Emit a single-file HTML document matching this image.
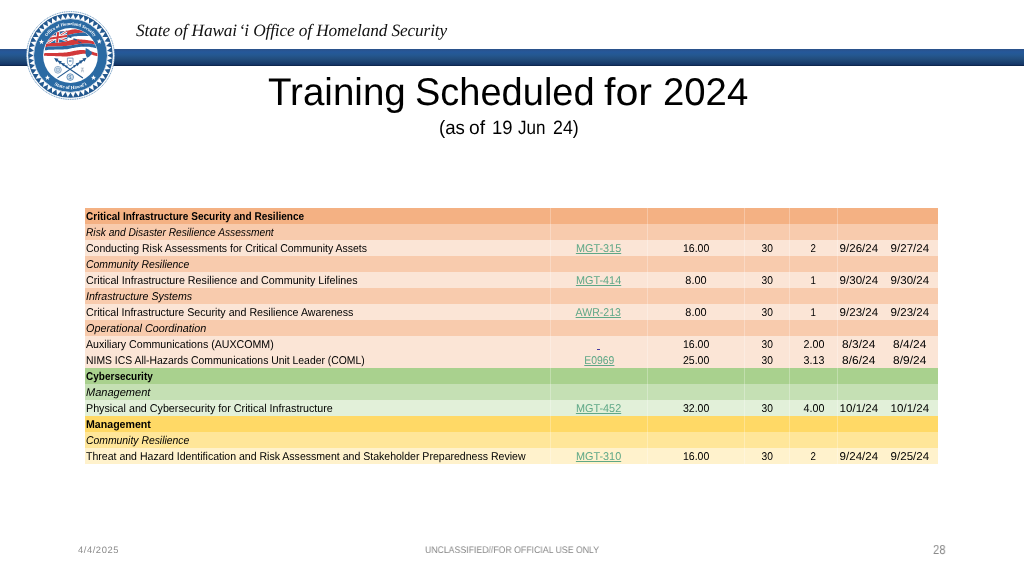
<!DOCTYPE html>
<html lang="en"><head><meta charset="utf-8"><title>Training Scheduled for 2024</title>
<style>
html,body{margin:0;padding:0;}
body{text-rendering:geometricPrecision;width:1024px;height:576px;position:relative;overflow:hidden;background:#fff;font-family:'Liberation Sans',sans-serif;}
.abs{position:absolute;white-space:pre;line-height:1;will-change:transform;}
#bar{position:absolute;left:0;top:49px;width:1024px;height:17px;background:linear-gradient(to bottom,#2b5189 0%,#25589a 18%,#245891 35%,#234f80 55%,#1a416f 78%,#15376a 90%,#0b2142 100%);}
#seal{position:absolute;left:25px;top:10px;width:91px;height:91px;will-change:transform;}
table{will-change:transform;position:absolute;left:85.25px;top:208px;border-collapse:collapse;table-layout:fixed;width:853.15px;}
td{height:16px;padding:0;line-height:16px;font-size:11.3px;color:#000;white-space:nowrap;overflow:visible;text-align:center;border-right:1px solid rgba(255,255,255,.28);box-sizing:border-box;}
td.l{text-align:left;padding-left:1.25px;}
td.nb{border-right:none;}
td span{position:relative;top:0.9px;display:inline-block;transform-origin:50% 50%;}
td.l span{transform-origin:0 50%;}
a{color:#5fa887;text-decoration:underline;}
/*SEALCSS*/
</style></head><body>
<div id="bar"></div>
<svg id="seal" viewBox="-45.5 -45.5 91 91" style="left:24.80px;top:10.00px">
<defs>
<path id="arcT" d="M-30.4,0 A30.4,30.4 0 0 1 30.4,0"/>
<path id="arcB" d="M-33.6,0 A33.6,33.6 0 0 0 33.6,0"/>
<clipPath id="inner"><circle r="27.0"/></clipPath>
<clipPath id="flagclip"><path d="M-21.6,-30 L30,-30 L30,10 L-30,10 L-26.6,0 Z"/></clipPath>
<clipPath id="cantonclip"><path d="M-24.06,-20.38 L-23.02,-20.79 L-21.98,-21.18 L-20.94,-21.48 L-19.90,-21.74 L-18.85,-22.00 L-17.81,-22.26 L-16.77,-22.52 L-15.73,-22.76 L-14.69,-23.00 L-13.65,-23.23 L-12.60,-23.44 L-11.56,-23.62 L-10.52,-23.79 L-9.48,-23.94 L-8.44,-24.09 L-7.40,-24.23 L-6.35,-24.37 L-5.31,-24.50 L-4.27,-24.65 L-3.23,-24.79 L-3.23,-14.38 L-4.27,-14.19 L-5.31,-14.00 L-6.35,-13.81 L-7.40,-13.62 L-8.44,-13.43 L-9.48,-13.25 L-10.52,-13.09 L-11.56,-12.94 L-12.60,-12.81 L-13.65,-12.71 L-14.69,-12.64 L-15.73,-12.60 L-16.77,-12.57 L-17.81,-12.54 L-18.85,-12.50 L-19.90,-12.45 L-20.94,-12.35 L-21.98,-12.19 L-23.02,-11.93 L-24.06,-11.62Z"/></clipPath>
</defs>
<circle r="44.2" fill="#fff"/>
<circle r="43.9" fill="none" stroke="#2a6aa3" stroke-width="0.7" stroke-dasharray="1.1 0.7"/>
<circle r="42.35" fill="#24598f"/>
<path d="M36.90,0.00 L41.81,2.74 L36.58,4.82Z M36.58,4.82 L41.09,8.17 L35.64,9.55Z M35.64,9.55 L39.68,13.47 L34.09,14.12Z M34.09,14.12 L37.58,18.53 L31.96,18.45Z M31.96,18.45 L34.84,23.28 L29.27,22.46Z M29.27,22.46 L31.50,27.63 L26.09,26.09Z M26.09,26.09 L27.63,31.50 L22.46,29.27Z M22.46,29.27 L23.28,34.84 L18.45,31.96Z M18.45,31.96 L18.53,37.58 L14.12,34.09Z M14.12,34.09 L13.47,39.68 L9.55,35.64Z M9.55,35.64 L8.17,41.09 L4.82,36.58Z M4.82,36.58 L2.74,41.81 L0.00,36.90Z M0.00,36.90 L-2.74,41.81 L-4.82,36.58Z M-4.82,36.58 L-8.17,41.09 L-9.55,35.64Z M-9.55,35.64 L-13.47,39.68 L-14.12,34.09Z M-14.12,34.09 L-18.53,37.58 L-18.45,31.96Z M-18.45,31.96 L-23.28,34.84 L-22.46,29.27Z M-22.46,29.27 L-27.63,31.50 L-26.09,26.09Z M-26.09,26.09 L-31.50,27.63 L-29.27,22.46Z M-29.27,22.46 L-34.84,23.28 L-31.96,18.45Z M-31.96,18.45 L-37.58,18.53 L-34.09,14.12Z M-34.09,14.12 L-39.68,13.47 L-35.64,9.55Z M-35.64,9.55 L-41.09,8.17 L-36.58,4.82Z M-36.58,4.82 L-41.81,2.74 L-36.90,0.00Z M-36.90,0.00 L-41.81,-2.74 L-36.58,-4.82Z M-36.58,-4.82 L-41.09,-8.17 L-35.64,-9.55Z M-35.64,-9.55 L-39.68,-13.47 L-34.09,-14.12Z M-34.09,-14.12 L-37.58,-18.53 L-31.96,-18.45Z M-31.96,-18.45 L-34.84,-23.28 L-29.27,-22.46Z M-29.27,-22.46 L-31.50,-27.63 L-26.09,-26.09Z M-26.09,-26.09 L-27.63,-31.50 L-22.46,-29.27Z M-22.46,-29.27 L-23.28,-34.84 L-18.45,-31.96Z M-18.45,-31.96 L-18.53,-37.58 L-14.12,-34.09Z M-14.12,-34.09 L-13.47,-39.68 L-9.55,-35.64Z M-9.55,-35.64 L-8.17,-41.09 L-4.82,-36.58Z M-4.82,-36.58 L-2.74,-41.81 L-0.00,-36.90Z M-0.00,-36.90 L2.74,-41.81 L4.82,-36.58Z M4.82,-36.58 L8.17,-41.09 L9.55,-35.64Z M9.55,-35.64 L13.47,-39.68 L14.12,-34.09Z M14.12,-34.09 L18.53,-37.58 L18.45,-31.96Z M18.45,-31.96 L23.28,-34.84 L22.46,-29.27Z M22.46,-29.27 L27.63,-31.50 L26.09,-26.09Z M26.09,-26.09 L31.50,-27.63 L29.27,-22.46Z M29.27,-22.46 L34.84,-23.28 L31.96,-18.45Z M31.96,-18.45 L37.58,-18.53 L34.09,-14.12Z M34.09,-14.12 L39.68,-13.47 L35.64,-9.55Z M35.64,-9.55 L41.09,-8.17 L36.58,-4.82Z M36.58,-4.82 L41.81,-2.74 L36.90,-0.00Z" fill="#fff"/>
<circle r="37.0" fill="#fff"/>
<circle r="36.5" fill="#2a6aa3"/>
<circle r="27.4" fill="#fff"/>
<g clip-path="url(#inner)">
 <g clip-path="url(#flagclip)">
 <path d="M-28.23,-19.06 L-27.19,-19.29 L-26.15,-19.61 L-25.10,-19.98 L-24.06,-20.38 L-23.02,-20.79 L-21.98,-21.18 L-20.94,-21.48 L-19.90,-21.74 L-18.85,-22.00 L-17.81,-22.26 L-16.77,-22.52 L-15.73,-22.76 L-14.69,-23.00 L-13.65,-23.23 L-12.60,-23.44 L-11.56,-23.62 L-10.52,-23.79 L-9.48,-23.94 L-8.44,-24.09 L-7.40,-24.23 L-6.35,-24.37 L-5.31,-24.50 L-4.27,-24.65 L-3.23,-24.79 L-2.19,-25.00 L-1.15,-25.24 L-0.10,-25.48 L0.94,-25.70 L1.98,-25.90 L3.02,-26.06 L4.06,-26.15 L5.10,-26.17 L6.15,-26.13 L7.19,-26.05 L8.23,-25.94 L9.27,-25.80 L10.31,-25.66 L11.35,-25.52 L12.40,-25.38 L13.44,-25.23 L14.48,-25.07 L15.52,-24.90 L16.56,-24.71 L17.60,-24.50 L18.65,-24.27 L19.69,-24.06 L20.73,-23.82 L21.77,-23.56 L22.81,-23.29 L23.85,-23.02 L24.90,-22.76 L25.94,-22.53 L26.98,-22.33 L28.02,-22.19 L28.02,-22.19 L26.98,-22.25 L25.94,-22.34 L24.90,-22.44 L23.85,-22.56 L22.81,-22.68 L21.77,-22.79 L20.73,-22.89 L19.69,-22.97 L18.65,-23.02 L17.60,-23.05 L16.56,-23.06 L15.52,-23.04 L14.48,-23.00 L13.44,-22.95 L12.40,-22.88 L11.35,-22.81 L10.31,-22.73 L9.27,-22.64 L8.23,-22.54 L7.19,-22.43 L6.15,-22.30 L5.10,-22.15 L4.06,-21.98 L3.02,-21.78 L1.98,-21.55 L0.94,-21.30 L-0.10,-21.04 L-1.15,-20.78 L-2.19,-20.54 L-3.23,-20.31 L-4.27,-20.16 L-5.31,-20.01 L-6.35,-19.86 L-7.40,-19.73 L-8.44,-19.60 L-9.48,-19.46 L-10.52,-19.33 L-11.56,-19.20 L-12.60,-19.06 L-13.65,-18.92 L-14.69,-18.79 L-15.73,-18.65 L-16.77,-18.52 L-17.81,-18.39 L-18.85,-18.24 L-19.90,-18.08 L-20.94,-17.91 L-21.98,-17.67 L-23.02,-17.35 L-24.06,-16.98 L-25.10,-16.60 L-26.15,-16.24 L-27.19,-15.94 L-28.23,-15.73Z" fill="#d2393b"/><path d="M-28.23,-15.73 L-27.19,-15.94 L-26.15,-16.24 L-25.10,-16.60 L-24.06,-16.98 L-23.02,-17.35 L-21.98,-17.67 L-20.94,-17.91 L-19.90,-18.08 L-18.85,-18.24 L-17.81,-18.39 L-16.77,-18.52 L-15.73,-18.65 L-14.69,-18.79 L-13.65,-18.92 L-12.60,-19.06 L-11.56,-19.20 L-10.52,-19.33 L-9.48,-19.46 L-8.44,-19.60 L-7.40,-19.73 L-6.35,-19.86 L-5.31,-20.01 L-4.27,-20.16 L-3.23,-20.31 L-2.19,-20.54 L-1.15,-20.78 L-0.10,-21.04 L0.94,-21.30 L1.98,-21.55 L3.02,-21.78 L4.06,-21.98 L5.10,-22.15 L6.15,-22.30 L7.19,-22.43 L8.23,-22.54 L9.27,-22.64 L10.31,-22.73 L11.35,-22.81 L12.40,-22.88 L13.44,-22.95 L14.48,-23.00 L15.52,-23.04 L16.56,-23.06 L17.60,-23.05 L18.65,-23.02 L19.69,-22.97 L20.73,-22.89 L21.77,-22.79 L22.81,-22.68 L23.85,-22.56 L24.90,-22.44 L25.94,-22.34 L26.98,-22.25 L28.02,-22.19 L28.02,-19.06 L26.98,-19.10 L25.94,-19.16 L24.90,-19.22 L23.85,-19.29 L22.81,-19.37 L21.77,-19.44 L20.73,-19.50 L19.69,-19.55 L18.65,-19.58 L17.60,-19.60 L16.56,-19.61 L15.52,-19.59 L14.48,-19.57 L13.44,-19.54 L12.40,-19.51 L11.35,-19.48 L10.31,-19.45 L9.27,-19.44 L8.23,-19.41 L7.19,-19.38 L6.15,-19.34 L5.10,-19.27 L4.06,-19.17 L3.02,-19.03 L1.98,-18.86 L0.94,-18.66 L-0.10,-18.45 L-1.15,-18.24 L-2.19,-18.02 L-3.23,-17.81 L-4.27,-17.66 L-5.31,-17.50 L-6.35,-17.33 L-7.40,-17.17 L-8.44,-17.01 L-9.48,-16.84 L-10.52,-16.68 L-11.56,-16.52 L-12.60,-16.35 L-13.65,-16.19 L-14.69,-16.02 L-15.73,-15.86 L-16.77,-15.70 L-17.81,-15.54 L-18.85,-15.37 L-19.90,-15.19 L-20.94,-15.00 L-21.98,-14.75 L-23.02,-14.42 L-24.06,-14.05 L-25.10,-13.67 L-26.15,-13.32 L-27.19,-13.02 L-28.23,-12.81Z" fill="#2a6aa3"/><path d="M-28.23,-10.52 L-27.19,-10.71 L-26.15,-10.98 L-25.10,-11.29 L-24.06,-11.62 L-23.02,-11.93 L-21.98,-12.19 L-20.94,-12.35 L-19.90,-12.45 L-18.85,-12.50 L-17.81,-12.54 L-16.77,-12.57 L-15.73,-12.60 L-14.69,-12.64 L-13.65,-12.71 L-12.60,-12.81 L-11.56,-12.94 L-10.52,-13.09 L-9.48,-13.25 L-8.44,-13.43 L-7.40,-13.62 L-6.35,-13.81 L-5.31,-14.00 L-4.27,-14.19 L-3.23,-14.38 L-2.19,-14.62 L-1.15,-14.90 L-0.10,-15.17 L0.94,-15.45 L1.98,-15.69 L3.02,-15.90 L4.06,-16.04 L5.10,-16.13 L6.15,-16.16 L7.19,-16.16 L8.23,-16.13 L9.27,-16.07 L10.31,-16.01 L11.35,-15.94 L12.40,-15.86 L13.44,-15.78 L14.48,-15.68 L15.52,-15.57 L16.56,-15.43 L17.60,-15.28 L18.65,-15.10 L19.69,-14.94 L20.73,-14.74 L21.77,-14.52 L22.81,-14.28 L23.85,-14.05 L24.90,-13.83 L25.94,-13.63 L26.98,-13.46 L28.02,-13.33 L28.02,-10.21 L26.98,-10.34 L25.94,-10.52 L24.90,-10.74 L23.85,-10.98 L22.81,-11.23 L21.77,-11.47 L20.73,-11.68 L19.69,-11.86 L18.65,-11.98 L17.60,-12.06 L16.56,-12.09 L15.52,-12.07 L14.48,-12.02 L13.44,-11.95 L12.40,-11.86 L11.35,-11.77 L10.31,-11.67 L9.27,-11.53 L8.23,-11.38 L7.19,-11.22 L6.15,-11.05 L5.10,-10.89 L4.06,-10.73 L3.02,-10.58 L1.98,-10.42 L0.94,-10.26 L-0.10,-10.10 L-1.15,-9.95 L-2.19,-9.81 L-3.23,-9.69 L-4.27,-9.61 L-5.31,-9.53 L-6.35,-9.46 L-7.40,-9.40 L-8.44,-9.35 L-9.48,-9.30 L-10.52,-9.25 L-11.56,-9.21 L-12.60,-9.17 L-13.65,-9.13 L-14.69,-9.12 L-15.73,-9.11 L-16.77,-9.10 L-17.81,-9.10 L-18.85,-9.08 L-19.90,-9.05 L-20.94,-8.99 L-21.98,-8.90 L-23.02,-8.73 L-24.06,-8.53 L-25.10,-8.32 L-26.15,-8.11 L-27.19,-7.94 L-28.23,-7.81Z" fill="#d2393b"/><path d="M-28.23,-7.81 L-27.19,-7.94 L-26.15,-8.11 L-25.10,-8.32 L-24.06,-8.53 L-23.02,-8.73 L-21.98,-8.90 L-20.94,-8.99 L-19.90,-9.05 L-18.85,-9.08 L-17.81,-9.10 L-16.77,-9.10 L-15.73,-9.11 L-14.69,-9.12 L-13.65,-9.13 L-12.60,-9.17 L-11.56,-9.21 L-10.52,-9.25 L-9.48,-9.30 L-8.44,-9.35 L-7.40,-9.40 L-6.35,-9.46 L-5.31,-9.53 L-4.27,-9.61 L-3.23,-9.69 L-2.19,-9.81 L-1.15,-9.95 L-0.10,-10.10 L0.94,-10.26 L1.98,-10.42 L3.02,-10.58 L4.06,-10.73 L5.10,-10.89 L6.15,-11.05 L7.19,-11.22 L8.23,-11.38 L9.27,-11.53 L10.31,-11.67 L11.35,-11.77 L12.40,-11.86 L13.44,-11.95 L14.48,-12.02 L15.52,-12.07 L16.56,-12.09 L17.60,-12.06 L18.65,-11.98 L19.69,-11.86 L20.73,-11.68 L21.77,-11.47 L22.81,-11.23 L23.85,-10.98 L24.90,-10.74 L25.94,-10.52 L26.98,-10.34 L28.02,-10.21 L28.02,-7.08 L26.98,-7.20 L25.94,-7.35 L24.90,-7.54 L23.85,-7.75 L22.81,-7.97 L21.77,-8.18 L20.73,-8.37 L19.69,-8.53 L18.65,-8.65 L17.60,-8.75 L16.56,-8.81 L15.52,-8.85 L14.48,-8.85 L13.44,-8.84 L12.40,-8.80 L11.35,-8.75 L10.31,-8.68 L9.27,-8.57 L8.23,-8.45 L7.19,-8.31 L6.15,-8.15 L5.10,-7.98 L4.06,-7.81 L3.02,-7.62 L1.98,-7.40 L0.94,-7.17 L-0.10,-6.93 L-1.15,-6.71 L-2.19,-6.51 L-3.23,-6.35 L-4.27,-6.26 L-5.31,-6.19 L-6.35,-6.13 L-7.40,-6.09 L-8.44,-6.05 L-9.48,-6.02 L-10.52,-6.00 L-11.56,-5.97 L-12.60,-5.94 L-13.65,-5.91 L-14.69,-5.89 L-15.73,-5.88 L-16.77,-5.87 L-17.81,-5.86 L-18.85,-5.85 L-19.90,-5.81 L-20.94,-5.76 L-21.98,-5.67 L-23.02,-5.52 L-24.06,-5.34 L-25.10,-5.15 L-26.15,-4.96 L-27.19,-4.80 L-28.23,-4.69Z" fill="#2a6aa3"/><path d="M-28.23,-2.19 L-27.19,-2.23 L-26.15,-2.30 L-25.10,-2.38 L-24.06,-2.46 L-23.02,-2.53 L-21.98,-2.58 L-20.94,-2.61 L-19.90,-2.62 L-18.85,-2.62 L-17.81,-2.60 L-16.77,-2.59 L-15.73,-2.57 L-14.69,-2.57 L-13.65,-2.58 L-12.60,-2.60 L-11.56,-2.64 L-10.52,-2.69 L-9.48,-2.74 L-8.44,-2.79 L-7.40,-2.86 L-6.35,-2.94 L-5.31,-3.02 L-4.27,-3.12 L-3.23,-3.23 L-2.19,-3.40 L-1.15,-3.60 L-0.10,-3.83 L0.94,-4.06 L1.98,-4.29 L3.02,-4.50 L4.06,-4.69 L5.10,-4.86 L6.15,-5.03 L7.19,-5.19 L8.23,-5.33 L9.27,-5.44 L10.31,-5.51 L11.35,-5.52 L12.40,-5.48 L13.44,-5.40 L14.48,-5.27 L15.52,-5.11 L16.56,-4.92 L17.60,-4.71 L18.65,-4.48 L19.69,-4.27 L20.73,-4.01 L21.77,-3.72 L22.81,-3.42 L23.85,-3.12 L24.90,-2.83 L25.94,-2.57 L26.98,-2.35 L28.02,-2.19 L28.02,0.94 L26.98,0.77 L25.94,0.54 L24.90,0.27 L23.85,-0.04 L22.81,-0.35 L21.77,-0.66 L20.73,-0.94 L19.69,-1.18 L18.65,-1.35 L17.60,-1.51 L16.56,-1.61 L15.52,-1.67 L14.48,-1.69 L13.44,-1.68 L12.40,-1.63 L11.35,-1.56 L10.31,-1.45 L9.27,-1.28 L8.23,-1.08 L7.19,-0.86 L6.15,-0.63 L5.10,-0.40 L4.06,-0.21 L3.02,-0.02 L1.98,0.17 L0.94,0.37 L-0.10,0.55 L-1.15,0.71 L-2.19,0.85 L-3.23,0.94 L-4.27,0.97 L-5.31,0.98 L-6.35,0.97 L-7.40,0.94 L-8.44,0.90 L-9.48,0.86 L-10.52,0.81 L-11.56,0.76 L-12.60,0.73 L-13.65,0.70 L-14.69,0.66 L-15.73,0.62 L-16.77,0.58 L-17.81,0.54 L-18.85,0.50 L-19.90,0.46 L-20.94,0.43 L-21.98,0.40 L-23.02,0.38 L-24.06,0.36 L-25.10,0.34 L-26.15,0.33 L-27.19,0.32 L-28.23,0.31Z" fill="#d2393b"/>
 <path d="M-24.06,-20.38 L-23.02,-20.79 L-21.98,-21.18 L-20.94,-21.48 L-19.90,-21.74 L-18.85,-22.00 L-17.81,-22.26 L-16.77,-22.52 L-15.73,-22.76 L-14.69,-23.00 L-13.65,-23.23 L-12.60,-23.44 L-11.56,-23.62 L-10.52,-23.79 L-9.48,-23.94 L-8.44,-24.09 L-7.40,-24.23 L-6.35,-24.37 L-5.31,-24.50 L-4.27,-24.65 L-3.23,-24.79 L-3.23,-14.38 L-4.27,-14.19 L-5.31,-14.00 L-6.35,-13.81 L-7.40,-13.62 L-8.44,-13.43 L-9.48,-13.25 L-10.52,-13.09 L-11.56,-12.94 L-12.60,-12.81 L-13.65,-12.71 L-14.69,-12.64 L-15.73,-12.60 L-16.77,-12.57 L-17.81,-12.54 L-18.85,-12.50 L-19.90,-12.45 L-20.94,-12.35 L-21.98,-12.19 L-23.02,-11.93 L-24.06,-11.62Z" fill="#2a6aa3"/>
 <g clip-path="url(#cantonclip)">
  <path d="M-21.77,-21.24 L-2.60,-14.52 M-23.85,-11.68 L-2.60,-24.92" stroke="#fff" stroke-width="2.4" fill="none"/>
  <path d="M-21.77,-21.24 L-2.60,-14.52 M-23.85,-11.68 L-2.60,-24.92" stroke="#d2393b" stroke-width="0.9" fill="none"/>
  <path d="M-12.40,-23.47 L-13.44,-12.73 M-22.81,-16.46 L-2.60,-19.72" stroke="#fff" stroke-width="3.6" fill="none"/>
  <path d="M-12.40,-23.47 L-13.44,-12.73 M-22.81,-16.46 L-2.60,-19.72" stroke="#d2393b" stroke-width="2" fill="none"/>
 </g>
 </g>
 <!-- island chain -->
 <path d="M-1.4,-19.6 l2.6,0.7 l-0.5,1.6 l-2.3,-0.9z M3,-17.2 l3.4,1 l-0.4,1.5 l-3.2,-1z M7.6,-14.6 l3,1.3 l0.8,1.4 l-3.4,-1z M11.6,-11.6 l2.4,1.2 l-0.5,1.2 l-2.3,-1z" fill="#24598f"/>
 <path d="M15.2,-7.4 L18,-6 L20.3,-4.3 L21.7,-2.6 L20.4,-0.6 L18.6,1.2 L16.6,2.2 L15.6,0.2 L15,-2.2 Z" fill="#2a6aa3"/>
 <!-- crossed spears -->
 <path d="M-14.4,4.2 L12.4,22.4 M14.2,3.8 L-13,22.4" stroke="#24598f" stroke-width="1.15" fill="none"/>
 <path d="M-16.4,2.6 l4.4,0.7 l-2.1,3.4z M-12.8,5 l4.2,0.7 l-2,3.2z M-9.3,7.4 l3.9,0.7 l-1.9,3z M-5.9,9.7 l3.2,0.6 l-1.5,2.4z M16.2,2.2 l-4.4,0.7 l2.1,3.4z M12.6,4.6 l-4.2,0.7 l2,3.2z M9.1,7 l-3.9,0.7 l1.9,3z M5.7,9.3 l-3.2,0.6 l1.5,2.4z" fill="#24598f"/>
 <!-- shield -->
 <path d="M-3.1,2.6 h5.6 v4 c0,2 -1.5,3.1 -2.8,3.6 c-1.3,-0.5 -2.8,-1.6 -2.8,-3.6z" fill="#fff" stroke="#5b86b0" stroke-width="0.8"/>
 <path d="M-1.6,4.4 h2.6 v2.2 h-2.6z" fill="#8fb0cf"/>
 <!-- left globe -->
 <circle cx="-12.6" cy="14.3" r="3.4" fill="#fff" stroke="#5b86b0" stroke-width="0.7"/>
 <circle cx="-12.6" cy="14.3" r="2" fill="#c3d5e6" stroke="#5b86b0" stroke-width="0.5"/>
 <!-- bottom $ -->
 <circle cx="-0.3" cy="21.6" r="3.3" fill="#fff" stroke="#2a6aa3" stroke-width="0.7"/>
 <circle cx="-0.3" cy="21.6" r="2.1" fill="none" stroke="#5b86b0" stroke-width="0.4"/>
 <path d="M0.6,20.5 c-0.5,-0.5 -1.9,-0.4 -1.9,0.4 c0,0.9 2,0.5 2,1.5 c0,0.8 -1.5,0.9 -2.1,0.3 M-0.3,19.6 v4" stroke="#2a6aa3" stroke-width="0.5" fill="none"/>
 <!-- right satellite -->
 <path d="M10.3,12.6 l3.2,0 M11.9,12.6 l-1.1,4.2 M11.9,12.6 l1.1,4.2 M10.6,15.2 l2.6,0" stroke="#9aa9b8" stroke-width="0.55" fill="none"/>
</g>
<polygon points="-29.00,-16.22 -28.34,-14.44 -26.43,-14.36 -27.92,-13.17 -27.41,-11.34 -29.00,-12.39 -30.59,-11.34 -30.08,-13.17 -31.57,-14.36 -29.67,-14.44" fill="#fff"/><polygon points="28.76,-16.73 29.43,-14.95 31.33,-14.86 29.84,-13.68 30.35,-11.84 28.76,-12.89 27.17,-11.84 27.68,-13.68 26.19,-14.86 28.09,-14.95" fill="#fff"/><polygon points="23.02,19.53 23.69,21.31 25.59,21.39 24.10,22.58 24.61,24.41 23.02,23.36 21.43,24.41 21.94,22.58 20.45,21.39 22.35,21.31" fill="#fff"/><polygon points="-23.02,19.53 -22.35,21.31 -20.45,21.39 -21.94,22.58 -21.43,24.41 -23.02,23.36 -24.61,24.41 -24.10,22.58 -25.59,21.39 -23.69,21.31" fill="#fff"/>
<text font-family="Liberation Serif, serif" font-size="4.5" font-weight="bold" fill="#fff" text-anchor="middle"><textPath href="#arcT" startOffset="50%">Office of Homeland Security</textPath></text>
<text font-family="Liberation Serif, serif" font-size="4.9" font-weight="bold" fill="#fff" text-anchor="middle"><textPath href="#arcB" startOffset="50%">State of Hawai‘i</textPath></text>
</svg>
<div class="abs" id="hdr" style="left:135.6px;top:22.11px;font-family:'Liberation Serif', serif;font-size:17.3px;font-weight:normal;font-style:italic;color:#111;letter-spacing:-0.122px">State of Hawai<span style="margin-left:1.6px">‘</span>i Office of Homeland Security</div>
<div class="abs" id="title" style="left:0;top:74.13px;width:1024px;height:38.6px;font-family:'Liberation Sans', sans-serif;font-size:38.6px;font-weight:normal;font-style:normal;color:#000"><span style="position:absolute;left:268.00px;top:0;transform:scaleX(0.9986);transform-origin:0 50%">Training</span> <span style="position:absolute;left:414.81px;top:0;transform:scaleX(0.9851);transform-origin:0 50%">Scheduled</span> <span style="position:absolute;left:604.40px;top:0;transform:scaleX(1.0670);transform-origin:0 50%">for</span> <span style="position:absolute;left:663.41px;top:0;transform:scaleX(0.9933);transform-origin:0 50%">2024</span></div>
<div class="abs" id="sub" style="left:0;top:118.86px;width:1024px;height:19.3px;font-family:'Liberation Sans', sans-serif;font-size:19.3px;font-weight:normal;font-style:normal;color:#000"><span style="position:absolute;left:438.79px;top:0;transform:scaleX(0.9644);transform-origin:0 50%">(as</span> <span style="position:absolute;left:469.20px;top:0;transform:scaleX(0.9986);transform-origin:0 50%">of</span> <span style="position:absolute;left:491.84px;top:0;transform:scaleX(0.9583);transform-origin:0 50%">19</span> <span style="position:absolute;left:518.20px;top:0;transform:scaleX(0.8826);transform-origin:0 50%">Jun</span> <span style="position:absolute;left:553.00px;top:0;transform:scaleX(0.9218);transform-origin:0 50%">24)</span></div>
<div class="abs" id="fdate" style="left:77.8px;top:544.84px;font-family:'Liberation Sans', sans-serif;font-size:9.4px;font-weight:normal;font-style:normal;color:#8a8a8a;letter-spacing:0.557px">4/4/2025</div>
<div class="abs" id="fmid" style="left:424.8px;top:546.07px;font-family:'Liberation Sans', sans-serif;font-size:9.6px;font-weight:normal;font-style:normal;color:#878787;transform:scaleX(0.9092);transform-origin:0 50%">UNCLASSIFIED//FOR OFFICIAL USE ONLY</div>
<div class="abs" id="fnum" style="left:932.8px;top:543.00px;font-family:'Liberation Sans', sans-serif;font-size:13px;font-weight:normal;font-style:normal;color:#8a8a8a;transform:scaleX(0.8708);transform-origin:0 50%">28</div>
<table><colgroup><col style="width:465.05px"><col style="width:97.90px"><col style="width:96.40px"><col style="width:45.10px"><col style="width:47.70px"><col style="width:43.40px"><col style="width:57.60px"></colgroup>
<tr style="background:#F4B183"><td class="l"><span style="transform:scaleX(0.8911);font-weight:bold;">Critical Infrastructure Security and Resilience</span></td><td></td><td></td><td></td><td></td><td class="nb"></td><td class="nb"></td></tr>
<tr style="background:#F8CBAD"><td class="l"><span style="transform:scaleX(0.9023);font-style:italic;">Risk and Disaster Resilience Assessment</span></td><td></td><td></td><td></td><td></td><td class="nb"></td><td class="nb"></td></tr>
<tr style="background:#FBE5D6"><td class="l"><span style="transform:scaleX(0.9286);">Conducting Risk Assessments for Critical Community Assets</span></td><td><span style="transform:scaleX(0.9619);left:-0.55px;"><a>MGT-315</a></span></td><td><span style="transform:scaleX(0.937);left:0.10px;">16.00</span></td><td><span style="transform:scaleX(0.9063);left:0.65px;">30</span></td><td><span style="transform:scaleX(0.8576);left:0.35px;">2</span></td><td class="nb"><span style="transform:scaleX(1.0211);left:0.00px;">9/26/24</span></td><td class="nb"><span style="transform:scaleX(1.0211);left:0.10px;">9/27/24</span></td></tr>
<tr style="background:#F8CBAD"><td class="l"><span style="transform:scaleX(0.9191);font-style:italic;">Community Resilience</span></td><td></td><td></td><td></td><td></td><td class="nb"></td><td class="nb"></td></tr>
<tr style="background:#FBE5D6"><td class="l"><span style="transform:scaleX(0.9486);">Critical Infrastructure Resilience and Community Lifelines</span></td><td><span style="transform:scaleX(0.9619);left:-0.55px;"><a>MGT-414</a></span></td><td><span style="transform:scaleX(0.9682);left:0.10px;">8.00</span></td><td><span style="transform:scaleX(0.9063);left:0.65px;">30</span></td><td><span style="transform:scaleX(0.8576);left:0.35px;">1</span></td><td class="nb"><span style="transform:scaleX(1.0211);left:0.00px;">9/30/24</span></td><td class="nb"><span style="transform:scaleX(1.0211);left:0.10px;">9/30/24</span></td></tr>
<tr style="background:#F8CBAD"><td class="l"><span style="transform:scaleX(0.9388);font-style:italic;">Infrastructure Systems</span></td><td></td><td></td><td></td><td></td><td class="nb"></td><td class="nb"></td></tr>
<tr style="background:#FBE5D6"><td class="l"><span style="transform:scaleX(0.9429);">Critical Infrastructure Security and Resilience Awareness</span></td><td><span style="transform:scaleX(0.9331);left:-0.55px;"><a>AWR-213</a></span></td><td><span style="transform:scaleX(0.9682);left:0.10px;">8.00</span></td><td><span style="transform:scaleX(0.9063);left:0.65px;">30</span></td><td><span style="transform:scaleX(0.8576);left:0.35px;">1</span></td><td class="nb"><span style="transform:scaleX(1.0211);left:0.00px;">9/23/24</span></td><td class="nb"><span style="transform:scaleX(1.0211);left:0.10px;">9/23/24</span></td></tr>
<tr style="background:#F8CBAD"><td class="l"><span style="transform:scaleX(0.9569);font-style:italic;">Operational Coordination</span></td><td></td><td></td><td></td><td></td><td class="nb"></td><td class="nb"></td></tr>
<tr style="background:#FBE5D6"><td class="l"><span style="transform:scaleX(0.9403);">Auxiliary Communications (AUXCOMM)</span></td><td><span style="left:-0.4px;top:2.6px;width:3.2px;height:1.1px;background:#43389f;"></span></td><td><span style="transform:scaleX(0.937);left:0.10px;">16.00</span></td><td><span style="transform:scaleX(0.9063);left:0.65px;">30</span></td><td><span style="transform:scaleX(0.95);left:0.35px;">2.00</span></td><td class="nb"><span style="transform:scaleX(1.0566);left:0.00px;">8/3/24</span></td><td class="nb"><span style="transform:scaleX(1.0566);left:0.10px;">8/4/24</span></td></tr>
<tr style="background:#FBE5D6"><td class="l"><span style="transform:scaleX(0.9191);">NIMS ICS All-Hazards Communications Unit Leader (COML)</span></td><td><span style="transform:scaleX(0.9213);left:0.05px;"><a>E0969</a></span></td><td><span style="transform:scaleX(0.937);left:0.10px;">25.00</span></td><td><span style="transform:scaleX(0.9063);left:0.65px;">30</span></td><td><span style="transform:scaleX(0.95);left:0.35px;">3.13</span></td><td class="nb"><span style="transform:scaleX(1.0566);left:0.00px;">8/6/24</span></td><td class="nb"><span style="transform:scaleX(1.0566);left:0.10px;">8/9/24</span></td></tr>
<tr style="background:#A9D18E"><td class="l"><span style="transform:scaleX(0.8864);font-weight:bold;">Cybersecurity</span></td><td></td><td></td><td></td><td></td><td class="nb"></td><td class="nb"></td></tr>
<tr style="background:#C5E0B4"><td class="l"><span style="transform:scaleX(0.9765);font-style:italic;">Management</span></td><td></td><td></td><td></td><td></td><td class="nb"></td><td class="nb"></td></tr>
<tr style="background:#E2F0D9"><td class="l"><span style="transform:scaleX(0.9495);">Physical and Cybersecurity for Critical Infrastructure</span></td><td><span style="transform:scaleX(0.9619);left:-0.55px;"><a>MGT-452</a></span></td><td><span style="transform:scaleX(0.937);left:0.10px;">32.00</span></td><td><span style="transform:scaleX(0.9063);left:0.65px;">30</span></td><td><span style="transform:scaleX(0.95);left:0.35px;">4.00</span></td><td class="nb"><span style="transform:scaleX(1.0211);left:0.00px;">10/1/24</span></td><td class="nb"><span style="transform:scaleX(1.0211);left:0.10px;">10/1/24</span></td></tr>
<tr style="background:#FFD966"><td class="l"><span style="transform:scaleX(0.9397);font-weight:bold;">Management</span></td><td></td><td></td><td></td><td></td><td class="nb"></td><td class="nb"></td></tr>
<tr style="background:#FFE699"><td class="l"><span style="transform:scaleX(0.9191);font-style:italic;">Community Resilience</span></td><td></td><td></td><td></td><td></td><td class="nb"></td><td class="nb"></td></tr>
<tr style="background:#FFF2CC"><td class="l"><span style="transform:scaleX(0.9332);">Threat and Hazard Identification and Risk Assessment and Stakeholder Preparedness Review</span></td><td><span style="transform:scaleX(0.9619);left:-0.55px;"><a>MGT-310</a></span></td><td><span style="transform:scaleX(0.937);left:0.10px;">16.00</span></td><td><span style="transform:scaleX(0.9063);left:0.65px;">30</span></td><td><span style="transform:scaleX(0.8576);left:0.35px;">2</span></td><td class="nb"><span style="transform:scaleX(1.0211);left:0.00px;">9/24/24</span></td><td class="nb"><span style="transform:scaleX(1.0211);left:0.10px;">9/25/24</span></td></tr>
</table>
</body></html>
